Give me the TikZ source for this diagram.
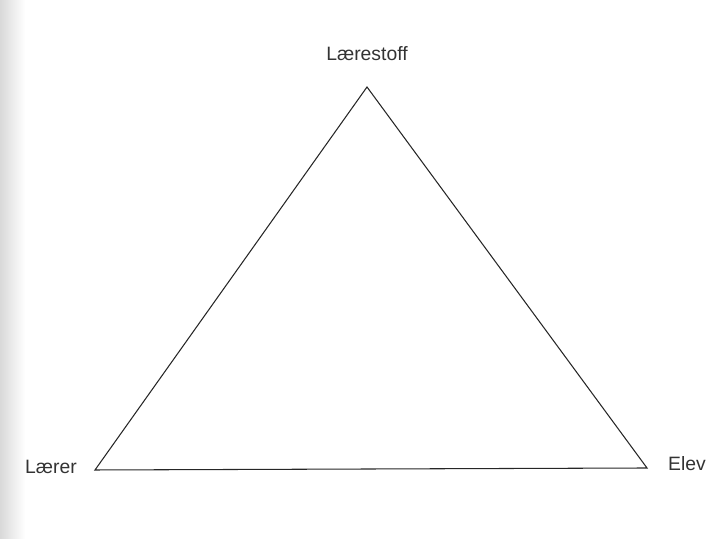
\documentclass[tikz,border=0pt]{standalone}
\usepackage{fontspec}
\setmainfont{Liberation Sans}
\usetikzlibrary{positioning,calc}
\begin{document}
\begin{tikzpicture}[font=\normalsize]
\tikzstyle{lbl}=[font=\fontsize{11}{13}\selectfont,text=black!80]
\useasboundingbox (0,0) rectangle (14.2,10.78);
\fill[left color=gray!30,right color=white] (0,0) rectangle (0.5,10.78);
\coordinate (top) at (7.34,9.04); \coordinate (left) at (1.9,1.38); \coordinate (right) at (12.94,1.42);
\node[lbl] (stoff) at (7.34,9.7) {Lærestoff};
\node[lbl] (laerer) at (1.02,1.44) {Lærer};
\node[lbl] (elev) at (13.74,1.5) {Elev};
\draw[line width=0.6pt,black!85] (top) -- (right) -- (left) -- cycle;
\end{tikzpicture}
\end{document}
